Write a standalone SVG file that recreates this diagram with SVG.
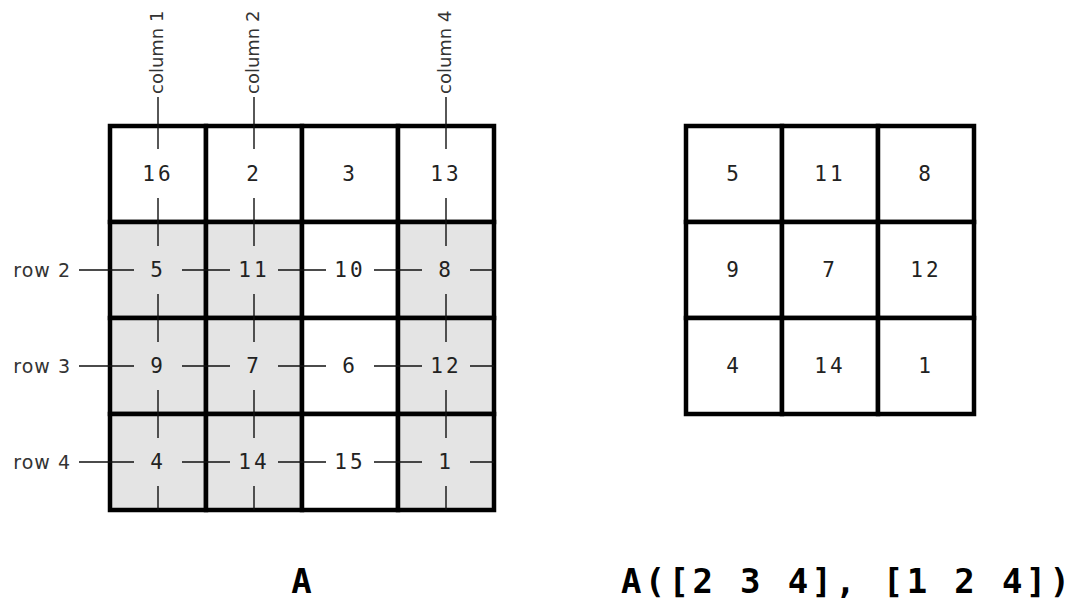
<svg xmlns="http://www.w3.org/2000/svg" width="1073" height="600" viewBox="0 0 1073 600">
<style>
.cell{stroke:#000;stroke-width:4.5;stroke-linejoin:miter}
.w{fill:#fff}
.g{fill:#e4e4e4}
.num{font-family:"DejaVu Sans Mono",monospace;font-size:21px;fill:#222;text-anchor:middle;letter-spacing:3px}
.lbl{font-family:"DejaVu Sans",sans-serif;font-size:18px;fill:#333}
.rl{text-anchor:end;letter-spacing:1px;font-size:19px}
.cap{font-family:"DejaVu Sans Mono",monospace;font-size:34px;font-weight:bold;fill:#000}
.conn path{fill:none;stroke:#111;stroke-width:1.4}
</style>
<rect width="1073" height="600" fill="#fff"/>
<g id="matrixA">
<g id="A11"><rect class="cell w" x="110" y="126" width="96" height="96"/><text class="num" x="158" y="181">16</text></g>
<g id="A12"><rect class="cell w" x="206" y="126" width="96" height="96"/><text class="num" x="254" y="181">2</text></g>
<g id="A13"><rect class="cell w" x="302" y="126" width="96" height="96"/><text class="num" x="350" y="181">3</text></g>
<g id="A14"><rect class="cell w" x="398" y="126" width="96" height="96"/><text class="num" x="446" y="181">13</text></g>
<g id="A21"><rect class="cell g" x="110" y="222" width="96" height="96"/><text class="num" x="158" y="277">5</text></g>
<g id="A22"><rect class="cell g" x="206" y="222" width="96" height="96"/><text class="num" x="254" y="277">11</text></g>
<g id="A23"><rect class="cell w" x="302" y="222" width="96" height="96"/><text class="num" x="350" y="277">10</text></g>
<g id="A24"><rect class="cell g" x="398" y="222" width="96" height="96"/><text class="num" x="446" y="277">8</text></g>
<g id="A31"><rect class="cell g" x="110" y="318" width="96" height="96"/><text class="num" x="158" y="373">9</text></g>
<g id="A32"><rect class="cell g" x="206" y="318" width="96" height="96"/><text class="num" x="254" y="373">7</text></g>
<g id="A33"><rect class="cell w" x="302" y="318" width="96" height="96"/><text class="num" x="350" y="373">6</text></g>
<g id="A34"><rect class="cell g" x="398" y="318" width="96" height="96"/><text class="num" x="446" y="373">12</text></g>
<g id="A41"><rect class="cell g" x="110" y="414" width="96" height="96"/><text class="num" x="158" y="469">4</text></g>
<g id="A42"><rect class="cell g" x="206" y="414" width="96" height="96"/><text class="num" x="254" y="469">14</text></g>
<g id="A43"><rect class="cell w" x="302" y="414" width="96" height="96"/><text class="num" x="350" y="469">15</text></g>
<g id="A44"><rect class="cell g" x="398" y="414" width="96" height="96"/><text class="num" x="446" y="469">1</text></g>
</g>
<g id="matrixB">
<g id="B11"><rect class="cell w" x="686" y="126" width="96" height="96"/><text class="num" x="734" y="181">5</text></g>
<g id="B12"><rect class="cell w" x="782" y="126" width="96" height="96"/><text class="num" x="830" y="181">11</text></g>
<g id="B13"><rect class="cell w" x="878" y="126" width="96" height="96"/><text class="num" x="926" y="181">8</text></g>
<g id="B21"><rect class="cell w" x="686" y="222" width="96" height="96"/><text class="num" x="734" y="277">9</text></g>
<g id="B22"><rect class="cell w" x="782" y="222" width="96" height="96"/><text class="num" x="830" y="277">7</text></g>
<g id="B23"><rect class="cell w" x="878" y="222" width="96" height="96"/><text class="num" x="926" y="277">12</text></g>
<g id="B31"><rect class="cell w" x="686" y="318" width="96" height="96"/><text class="num" x="734" y="373">4</text></g>
<g id="B32"><rect class="cell w" x="782" y="318" width="96" height="96"/><text class="num" x="830" y="373">14</text></g>
<g id="B33"><rect class="cell w" x="878" y="318" width="96" height="96"/><text class="num" x="926" y="373">1</text></g>
</g>
<g id="col1label"><text class="lbl" transform="translate(163,94) rotate(-90)">column 1</text></g>
<g id="col2label"><text class="lbl" transform="translate(259,94) rotate(-90)">column 2</text></g>
<g id="col4label"><text class="lbl" transform="translate(451,94) rotate(-90)">column 4</text></g>
<g id="row2label"><text class="lbl rl" x="71" y="277">row 2</text></g>
<g id="row3label"><text class="lbl rl" x="71" y="373">row 3</text></g>
<g id="row4label"><text class="lbl rl" x="71" y="469">row 4</text></g>
<g class="conn" id="connectors">
<path d="M158 97V149M158 198V246M158 294V342M158 390V438M158 486V510"/>
<path d="M254 97V149M254 198V246M254 294V342M254 390V438M254 486V510"/>
<path d="M446 97V149M446 198V246M446 294V342M446 390V438M446 486V510"/>
<path d="M79 270H134M182 270H230M278 270H326M374 270H422M470 270H494"/>
<path d="M79 366H134M182 366H230M278 366H326M374 366H422M470 366H494"/>
<path d="M79 462H134M182 462H230M278 462H326M374 462H422M470 462H494"/>
</g>
<g id="captionA"><text class="cap" x="301.5" y="593" text-anchor="middle">A</text></g>
<g id="captionB"><text class="cap" x="621" y="593" textLength="449" lengthAdjust="spacing">A([2 3 4], [1 2 4])</text></g>
</svg>
